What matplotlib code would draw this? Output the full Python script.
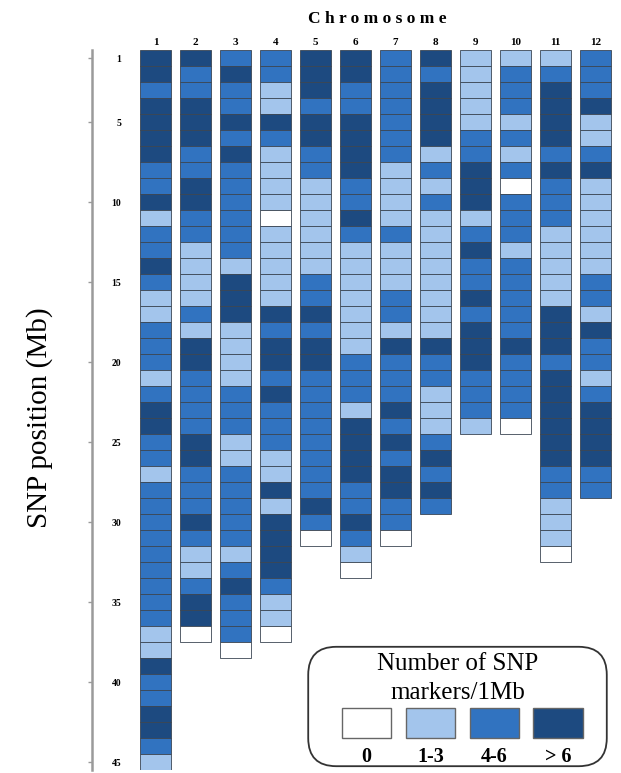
import numpy as np
import matplotlib.pyplot as plt
from matplotlib.patches import FancyBboxPatch, Rectangle

# SNP density class per 1 Mb bin: 0 = none, 1 = 1-3, 2 = 4-6, 3 = >6
chr1 = [3,3,2,3,3,3,3,2,2,3, 1,2,2,3,2,1,1,2,2,2, 1,2,3,3,2,2,1,2,2,2,
        2,2,2,2,2,2,1,1,3,2, 2,3,3,2,1]
chr2 = [3,2,2,3,3,3,2,2,3,3, 2,2,1,1,1,1,2,1,3,3, 2,2,2,2,3,3,2,2,2,3,
        2,1,1,2,3,3,0]
chr3 = [2,3,2,2,3,2,3,2,2,2, 2,2,2,1,3,3,3,1,1,1, 1,2,2,2,1,1,2,2,2,2,
        2,1,2,3,2,2,2,0]
chr4 = [2,2,1,1,3,2,1,1,1,1, 0,1,1,1,1,1,3,2,3,3, 2,3,2,2,2,1,1,3,1,3,
        3,3,3,2,1,1,0]
chr5 = [3,3,3,2,3,3,2,2,1,1, 1,1,1,1,2,2,3,2,3,3, 2,2,2,2,2,2,2,2,3,2, 0]
chr6 = [3,3,2,2,3,3,3,3,2,2, 3,2,1,1,1,1,1,1,1,2, 2,2,1,3,3,3,3,2,2,3,
        2,1,0]
chr7 = [2,2,2,2,2,2,2,1,1,1, 1,2,1,1,1,2,2,1,3,2, 2,2,3,2,3,2,3,3,2,2, 0]
chr8 = [3,2,3,3,3,3,1,2,1,2, 1,1,1,1,1,1,1,1,3,2, 2,1,1,1,2,3,2,3,2]
chr9 = [1,1,1,1,1,2,2,3,3,3, 1,2,3,2,2,3,2,3,3,3, 2,2,2,1]
chr10 = [1,2,2,2,1,2,1,2,0,2, 2,2,1,2,2,2,2,2,3,2, 2,2,2,0]
chr11 = [1,2,3,3,3,3,2,3,2,2, 2,1,1,1,1,1,3,3,3,2, 3,3,3,3,3,3,2,2,1,1,
         1,0]
chr12 = [2,2,2,3,1,1,2,3,1,1, 1,1,1,1,2,2,1,3,2,2, 1,2,3,3,3,3,2,2]

chromosomes = [chr1, chr2, chr3, chr4, chr5, chr6, chr7, chr8, chr9, chr10, chr11, chr12]
chrom_labels = [str(i) for i in range(1, 13)]
ytick_pos = [1, 5, 10, 15, 20, 25, 30, 35, 40, 45]
class_labels = ['0', '1-3', '4-6', '> 6']
class_colors = ['#ffffff', '#a3c5ec', '#3173c0', '#1d4a80']

serif = 'Liberation Serif'

fig = plt.figure(figsize=(6.21, 7.73), dpi=100)
W, H = 621, 773
# axes: left spine at x=92px, cells from y=50px to 770px
ax = fig.add_axes([92 / W, 3 / H, (W - 92) / W, (770 - 50) / H])

for i, cells in enumerate(chromosomes):
    n = len(cells)
    cols = [class_colors[c] for c in cells]
    ax.bar(np.full(n, i + 1), 1, bottom=np.arange(n), width=0.78,
           color=cols, edgecolor='#3b4654', linewidth=0.6, align='center')

ax.set_xlim(1 - 63.5 / 40, 12 + 25.5 / 40)
ax.set_ylim(45, 0)

ax.spines['top'].set_visible(False)
ax.spines['right'].set_visible(False)
ax.spines['bottom'].set_visible(False)
ax.spines['left'].set_color('#9a9a9a')
ax.spines['left'].set_linewidth(1.8)

ax.set_yticks([p - 0.5 for p in ytick_pos])
ax.set_yticklabels([str(p) for p in ytick_pos], fontfamily=serif,
                   fontweight='bold', fontsize=7)
ax.tick_params(axis='y', direction='out', length=3, width=1, color='#9a9a9a',
               pad=-24)

ax.xaxis.tick_top()
ax.set_xticks(range(1, 13))
ax.set_xticklabels(chrom_labels, fontfamily=serif, fontweight='bold', fontsize=8)
ax.tick_params(axis='x', length=0, pad=2)
ax.xaxis.set_label_position('top')
ax.set_xlabel('C h r o m o s o m e', fontfamily=serif, fontweight='bold',
              fontsize=12.5, labelpad=11)
ax.xaxis.label.set_x(0.54)

fig.text(40 / W, 1 - 418 / H, 'SNP position (Mb)', rotation=90, ha='center',
         va='center', fontfamily=serif, fontsize=21)

# legend box
lax = fig.add_axes([302 / W, 1 - 770 / H, 311 / W, 127 / H])
lax.set_xlim(0, 1)
lax.set_ylim(0, 1)
lax.axis('off')
lax.add_patch(FancyBboxPatch((0.02, 0.03), 0.96, 0.94,
                             boxstyle='round,pad=0,rounding_size=0.09',
                             facecolor='white', edgecolor='#333333',
                             linewidth=1.3, mutation_aspect=311 / 127))
lax.text(0.5, 0.835, 'Number of SNP', ha='center', va='center',
         fontfamily=serif, fontsize=18)
lax.text(0.5, 0.61, 'markers/1Mb', ha='center', va='center',
         fontfamily=serif, fontsize=18)
for k, (lab, col) in enumerate(zip(class_labels, class_colors)):
    x0 = 0.129 + k * 0.205
    lax.add_patch(Rectangle((x0, 0.25), 0.158, 0.24, facecolor=col,
                            edgecolor='#666666', linewidth=1.0))
    lax.text(x0 + 0.079, 0.1, lab, ha='center', va='center',
             fontfamily=serif, fontweight='bold', fontsize=14.5)

fig.savefig('out.png', dpi=100)
